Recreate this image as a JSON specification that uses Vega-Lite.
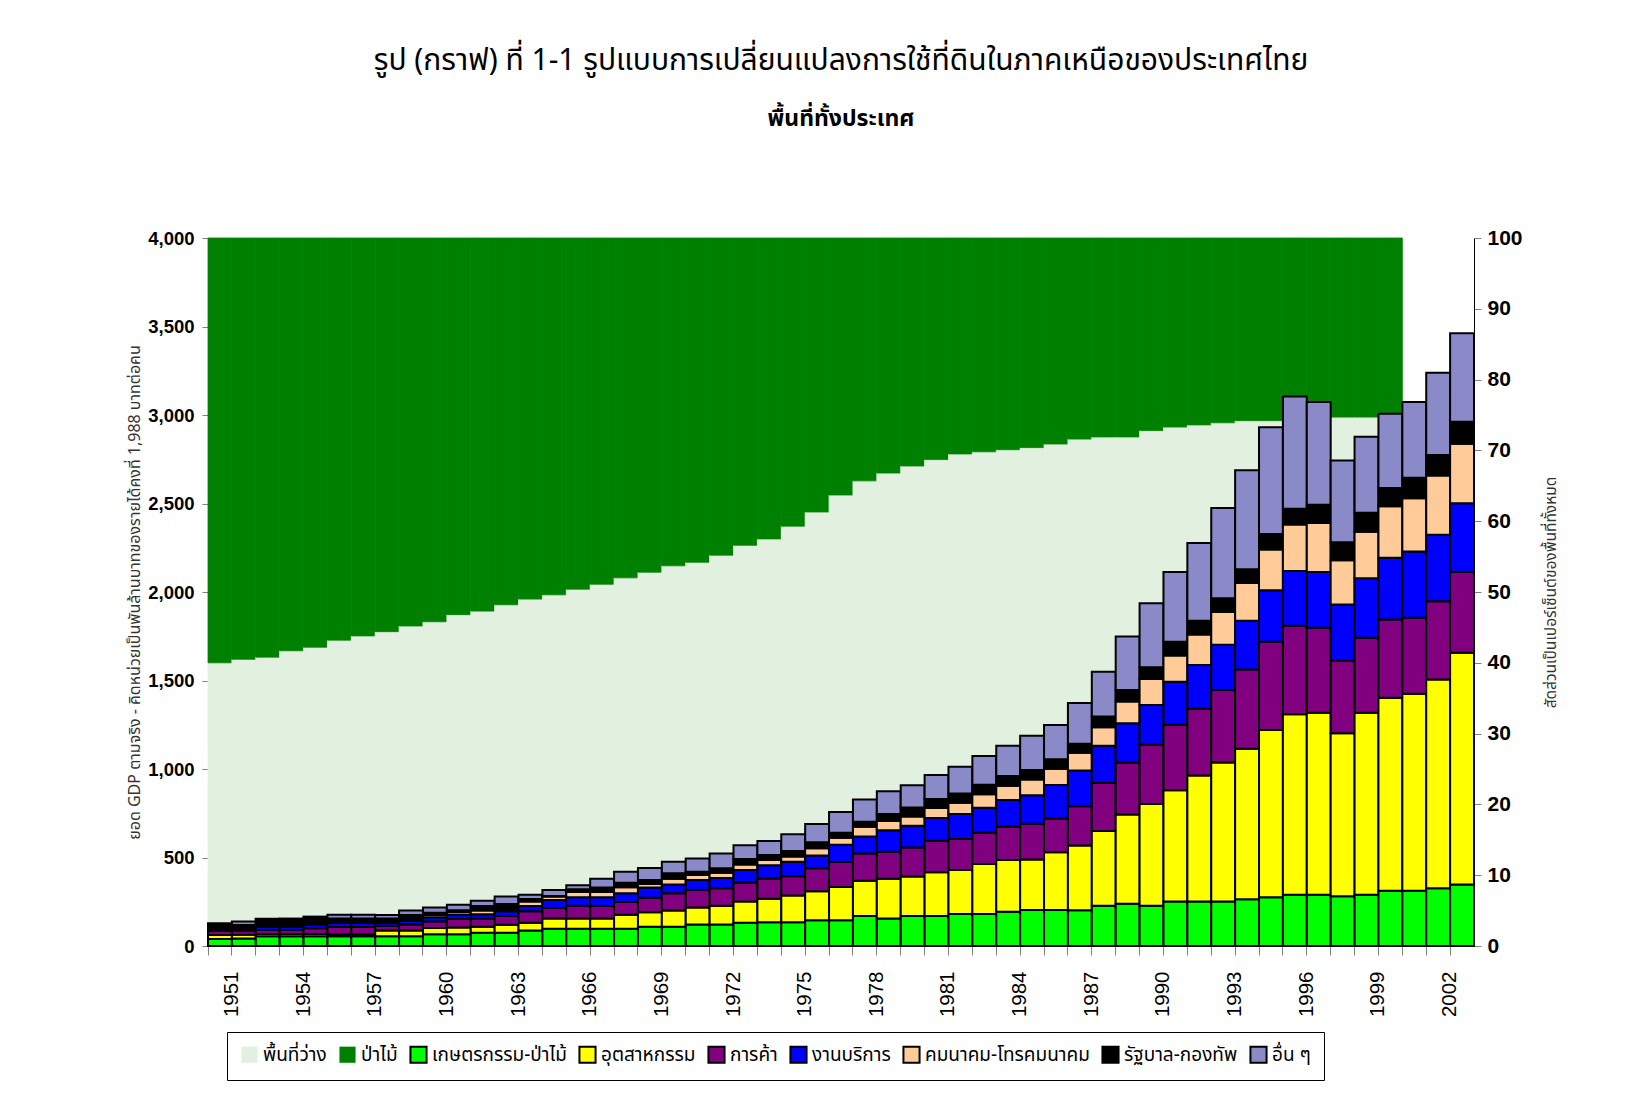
{
  "$schema": "https://vega.github.io/schema/vega-lite/v6.json",
  "autosize": {"type": "none"},
  "width": 1266,
  "height": 708,
  "padding": {"left": 208, "top": 238, "right": 156, "bottom": 159},
  "background": "white",
  "config": {
    "view": {"stroke": null},
    "font": "Noto Sans Thai, Noto Sans, DejaVu Sans, sans-serif"
  },
  "title": {
    "text": "รูป (กราฟ) ที่ 1-1  รูปแบบการเปลี่ยนแปลงการใช้ที่ดินในภาคเหนือของประเทศไทย",
    "subtitle": "พื้นที่ทั้งประเทศ",
    "anchor": "middle",
    "frame": "group",
    "fontSize": 30,
    "fontWeight": "normal",
    "color": "black",
    "subtitleFontSize": 23,
    "subtitleFontWeight": "bold",
    "subtitleColor": "black",
    "subtitlePadding": 32,
    "offset": 96
  },
  "datasets": {
    "land": [
      {"year": 1951, "พื้นที่ว่าง": 40.0, "ป่าไม้": 60.0},
      {"year": 1952, "พื้นที่ว่าง": 40.5, "ป่าไม้": 59.5},
      {"year": 1953, "พื้นที่ว่าง": 40.8, "ป่าไม้": 59.2},
      {"year": 1954, "พื้นที่ว่าง": 41.7, "ป่าไม้": 58.3},
      {"year": 1955, "พื้นที่ว่าง": 42.2, "ป่าไม้": 57.8},
      {"year": 1956, "พื้นที่ว่าง": 43.2, "ป่าไม้": 56.8},
      {"year": 1957, "พื้นที่ว่าง": 43.8, "ป่าไม้": 56.2},
      {"year": 1958, "พื้นที่ว่าง": 44.4, "ป่าไม้": 55.6},
      {"year": 1959, "พื้นที่ว่าง": 45.2, "ป่าไม้": 54.8},
      {"year": 1960, "พื้นที่ว่าง": 45.8, "ป่าไม้": 54.2},
      {"year": 1961, "พื้นที่ว่าง": 46.8, "ป่าไม้": 53.2},
      {"year": 1962, "พื้นที่ว่าง": 47.3, "ป่าไม้": 52.7},
      {"year": 1963, "พื้นที่ว่าง": 48.2, "ป่าไม้": 51.8},
      {"year": 1964, "พื้นที่ว่าง": 49.0, "ป่าไม้": 51.0},
      {"year": 1965, "พื้นที่ว่าง": 49.6, "ป่าไม้": 50.4},
      {"year": 1966, "พื้นที่ว่าง": 50.4, "ป่าไม้": 49.6},
      {"year": 1967, "พื้นที่ว่าง": 51.1, "ป่าไม้": 48.9},
      {"year": 1968, "พื้นที่ว่าง": 52.0, "ป่าไม้": 48.0},
      {"year": 1969, "พื้นที่ว่าง": 52.8, "ป่าไม้": 47.2},
      {"year": 1970, "พื้นที่ว่าง": 53.7, "ป่าไม้": 46.3},
      {"year": 1971, "พื้นที่ว่าง": 54.2, "ป่าไม้": 45.8},
      {"year": 1972, "พื้นที่ว่าง": 55.2, "ป่าไม้": 44.8},
      {"year": 1973, "พื้นที่ว่าง": 56.6, "ป่าไม้": 43.4},
      {"year": 1974, "พื้นที่ว่าง": 57.5, "ป่าไม้": 42.5},
      {"year": 1975, "พื้นที่ว่าง": 59.3, "ป่าไม้": 40.7},
      {"year": 1976, "พื้นที่ว่าง": 61.3, "ป่าไม้": 38.7},
      {"year": 1977, "พื้นที่ว่าง": 63.7, "ป่าไม้": 36.3},
      {"year": 1978, "พื้นที่ว่าง": 65.7, "ป่าไม้": 34.3},
      {"year": 1979, "พื้นที่ว่าง": 66.8, "ป่าไม้": 33.2},
      {"year": 1980, "พื้นที่ว่าง": 67.8, "ป่าไม้": 32.2},
      {"year": 1981, "พื้นที่ว่าง": 68.7, "ป่าไม้": 31.3},
      {"year": 1982, "พื้นที่ว่าง": 69.5, "ป่าไม้": 30.5},
      {"year": 1983, "พื้นที่ว่าง": 69.8, "ป่าไม้": 30.2},
      {"year": 1984, "พื้นที่ว่าง": 70.1, "ป่าไม้": 29.9},
      {"year": 1985, "พื้นที่ว่าง": 70.4, "ป่าไม้": 29.6},
      {"year": 1986, "พื้นที่ว่าง": 70.9, "ป่าไม้": 29.1},
      {"year": 1987, "พื้นที่ว่าง": 71.6, "ป่าไม้": 28.4},
      {"year": 1988, "พื้นที่ว่าง": 71.9, "ป่าไม้": 28.1},
      {"year": 1989, "พื้นที่ว่าง": 71.9, "ป่าไม้": 28.1},
      {"year": 1990, "พื้นที่ว่าง": 72.8, "ป่าไม้": 27.2},
      {"year": 1991, "พื้นที่ว่าง": 73.3, "ป่าไม้": 26.7},
      {"year": 1992, "พื้นที่ว่าง": 73.6, "ป่าไม้": 26.4},
      {"year": 1993, "พื้นที่ว่าง": 73.9, "ป่าไม้": 26.1},
      {"year": 1994, "พื้นที่ว่าง": 74.2, "ป่าไม้": 25.8},
      {"year": 1995, "พื้นที่ว่าง": 74.2, "ป่าไม้": 25.8},
      {"year": 1996, "พื้นที่ว่าง": 74.5, "ป่าไม้": 25.5},
      {"year": 1997, "พื้นที่ว่าง": 74.6, "ป่าไม้": 25.4},
      {"year": 1998, "พื้นที่ว่าง": 74.7, "ป่าไม้": 25.3},
      {"year": 1999, "พื้นที่ว่าง": 74.7, "ป่าไม้": 25.3},
      {"year": 2000, "พื้นที่ว่าง": 74.9, "ป่าไม้": 25.1}
    ],
    "gdp": [
      {"year": 1951, "เกษตรกรรม-ป่าไม้": 40, "อุตสาหกรรม": 22, "การค้า": 24, "งานบริการ": 2, "คมนาคม-โทรคมนาคม": 2, "รัฐบาล-กองทัพ": 36, "อื่น ๆ": 2},
      {"year": 1952, "เกษตรกรรม-ป่าไม้": 42, "อุตสาหกรรม": 22, "การค้า": 24, "งานบริการ": 2, "คมนาคม-โทรคมนาคม": 2, "รัฐบาล-กองทัพ": 26, "อื่น ๆ": 21},
      {"year": 1953, "เกษตรกรรม-ป่าไม้": 55, "อุตสาหกรรม": 13, "การค้า": 22, "งานบริการ": 18, "คมนาคม-โทรคมนาคม": 2, "รัฐบาล-กองทัพ": 42, "อื่น ๆ": 2},
      {"year": 1954, "เกษตรกรรม-ป่าไม้": 55, "อุตสาหกรรม": 13, "การค้า": 22, "งานบริการ": 18, "คมนาคม-โทรคมนาคม": 2, "รัฐบาล-กองทัพ": 42, "อื่น ๆ": 3},
      {"year": 1955, "เกษตรกรรม-ป่าไม้": 55, "อุตสาหกรรม": 13, "การค้า": 32, "งานบริการ": 22, "คมนาคม-โทรคมนาคม": 2, "รัฐบาล-กองทัพ": 36, "อื่น ๆ": 6},
      {"year": 1956, "เกษตรกรรม-ป่าไม้": 55, "อุตสาหกรรม": 11, "การค้า": 42, "งานบริการ": 22, "คมนาคม-โทรคมนาคม": 3, "รัฐบาล-กองทัพ": 22, "อื่น ๆ": 22},
      {"year": 1957, "เกษตรกรรม-ป่าไม้": 55, "อุตสาหกรรม": 11, "การค้า": 42, "งานบริการ": 22, "คมนาคม-โทรคมนาคม": 3, "รัฐบาล-กองทัพ": 22, "อื่น ๆ": 22},
      {"year": 1958, "เกษตรกรรม-ป่าไม้": 55, "อุตสาหกรรม": 33, "การค้า": 26, "งานบริการ": 18, "คมนาคม-โทรคมนาคม": 3, "รัฐบาล-กองทัพ": 20, "อื่น ๆ": 20},
      {"year": 1959, "เกษตรกรรม-ป่าไม้": 55, "อุตสาหกรรม": 33, "การค้า": 34, "งานบริการ": 19, "คมนาคม-โทรคมนาคม": 4, "รัฐบาล-กองทัพ": 30, "อื่น ๆ": 25},
      {"year": 1960, "เกษตรกรรม-ป่าไม้": 66, "อุตสาหกรรม": 36, "การค้า": 36, "งานบริการ": 24, "คมนาคม-โทรคมนาคม": 13, "รัฐบาล-กองทัพ": 13, "อื่น ๆ": 30},
      {"year": 1961, "เกษตรกรรม-ป่าไม้": 66, "อุตสาหกรรม": 38, "การค้า": 48, "งานบริการ": 23, "คมนาคม-โทรคมนาคม": 15, "รัฐบาล-กองทัพ": 12, "อื่น ๆ": 31},
      {"year": 1962, "เกษตรกรรม-ป่าไม้": 75, "อุตสาหกรรม": 34, "การค้า": 47, "งานบริการ": 23, "คมนาคม-โทรคมนาคม": 21, "รัฐบาล-กองทัพ": 26, "อื่น ๆ": 30},
      {"year": 1963, "เกษตรกรรม-ป่าไม้": 75, "อุตสาหกรรม": 45, "การค้า": 49, "งานบริการ": 27, "คมนาคม-โทรคมนาคม": 2, "รัฐบาล-กองทัพ": 39, "อื่น ๆ": 42},
      {"year": 1964, "เกษตรกรรม-ป่าไม้": 87, "อุตสาหกรรม": 45, "การค้า": 64, "งานบริการ": 30, "คมนาคม-โทรคมนาคม": 26, "รัฐบาล-กองทัพ": 14, "อื่น ๆ": 24},
      {"year": 1965, "เกษตรกรรม-ป่าไม้": 98, "อุตสาหกรรม": 58, "การค้า": 59, "งานบริการ": 45, "คมนาคม-โทรคมนาคม": 19, "รัฐบาล-กองทัพ": 4, "อื่น ๆ": 33},
      {"year": 1966, "เกษตรกรรม-ป่าไม้": 98, "อุตสาหกรรม": 58, "การค้า": 72, "งานบริการ": 47, "คมนาคม-โทรคมนาคม": 30, "รัฐบาล-กองทัพ": 15, "อื่น ๆ": 23},
      {"year": 1967, "เกษตรกรรม-ป่าไม้": 98, "อุตสาหกรรม": 57, "การค้า": 71, "งานบริการ": 49, "คมนาคม-โทรคมนาคม": 30, "รัฐบาล-กองทัพ": 25, "อื่น ๆ": 50},
      {"year": 1968, "เกษตรกรรม-ป่าไม้": 98, "อุตสาหกรรม": 79, "การค้า": 72, "งานบริการ": 49, "คมนาคม-โทรคมนาคม": 34, "รัฐบาล-กองทัพ": 26, "อื่น ๆ": 62},
      {"year": 1969, "เกษตรกรรม-ป่าไม้": 109, "อุตสาหกรรม": 81, "การค้า": 83, "งานบริการ": 57, "คมนาคม-โทรคมนาคม": 20, "รัฐบาล-กองทัพ": 23, "อื่น ๆ": 68},
      {"year": 1970, "เกษตรกรรม-ป่าไม้": 109, "อุตสาหกรรม": 91, "การค้า": 98, "งานบริการ": 49, "คมนาคม-โทรคมนาคม": 33, "รัฐบาล-กองทัพ": 31, "อื่น ๆ": 65},
      {"year": 1971, "เกษตรกรรม-ป่าไม้": 122, "อุตสาหกรรม": 95, "การค้า": 99, "งานบริการ": 57, "คมนาคม-โทรคมนาคม": 28, "รัฐบาล-กองทัพ": 19, "อื่น ๆ": 75},
      {"year": 1972, "เกษตรกรรม-ป่าไม้": 122, "อุตสาหกรรม": 106, "การค้า": 98, "งานบริการ": 58, "คมนาคม-โทรคมนาคม": 30, "รัฐบาล-กองทัพ": 25, "อื่น ๆ": 83},
      {"year": 1973, "เกษตรกรรม-ป่าไม้": 132, "อุตสาหกรรม": 120, "การค้า": 106, "งานบริการ": 71, "คมนาคม-โทรคมนาคม": 32, "รัฐบาล-กองทัพ": 31, "อื่น ๆ": 77},
      {"year": 1974, "เกษตรกรรม-ป่าไม้": 134, "อุตสาหกรรม": 133, "การค้า": 115, "งานบริการ": 74, "คมนาคม-โทรคมนาคม": 30, "รัฐบาล-กองทัพ": 28, "อื่น ๆ": 79},
      {"year": 1975, "เกษตรกรรม-ป่าไม้": 134, "อุตสาหกรรม": 152, "การค้า": 108, "งานบริการ": 82, "คมนาคม-โทรคมนาคม": 29, "รัฐบาล-กองทัพ": 32, "อื่น ๆ": 94},
      {"year": 1976, "เกษตรกรรม-ป่าไม้": 145, "อุตสาหกรรม": 164, "การค้า": 130, "งานบริการ": 73, "คมนาคม-โทรคมนาคม": 40, "รัฐบาล-กองทัพ": 34, "อื่น ๆ": 103},
      {"year": 1977, "เกษตรกรรม-ป่าไม้": 145, "อุตสาหกรรม": 188, "การค้า": 142, "งานบริการ": 97, "คมนาคม-โทรคมนาคม": 40, "รัฐบาล-กองทัพ": 28, "อื่น ๆ": 117},
      {"year": 1978, "เกษตรกรรม-ป่าไม้": 169, "อุตสาหกรรม": 200, "การค้า": 153, "งานบริการ": 96, "คมนาคม-โทรคมนาคม": 56, "รัฐบาล-กองทัพ": 28, "อื่น ๆ": 125},
      {"year": 1979, "เกษตรกรรม-ป่าไม้": 156, "อุตสาหกรรม": 224, "การค้า": 153, "งานบริการ": 121, "คมนาคม-โทรคมนาคม": 52, "รัฐบาล-กองทัพ": 40, "อื่น ๆ": 128},
      {"year": 1980, "เกษตรกรรม-ป่าไม้": 169, "อุตสาหกรรม": 223, "การค้า": 165, "งานบริการ": 123, "คมนาคม-โทรคมนาคม": 51, "รัฐบาล-กองทัพ": 52, "อื่น ๆ": 125},
      {"year": 1981, "เกษตรกรรม-ป่าไม้": 169, "อุตสาหกรรม": 247, "การค้า": 179, "งานบริการ": 128, "คมนาคม-โทรคมนาคม": 57, "รัฐบาล-กองทัพ": 51, "อื่น ๆ": 135},
      {"year": 1982, "เกษตรกรรม-ป่าไม้": 181, "อุตสาหกรรม": 248, "การค้า": 176, "งานบริการ": 141, "คมนาคม-โทรคมนาคม": 64, "รัฐบาล-กองทัพ": 52, "อื่น ๆ": 151},
      {"year": 1983, "เกษตรกรรม-ป่าไม้": 181, "อุตสาหกรรม": 282, "การค้า": 177, "งานบริการ": 141, "คมนาคม-โทรคมนาคม": 76, "รัฐบาล-กองทัพ": 54, "อื่น ๆ": 162},
      {"year": 1984, "เกษตรกรรม-ป่าไม้": 194, "อุตสาหกรรม": 292, "การค้า": 188, "งานบริการ": 151, "คมนาคม-โทรคมนาคม": 81, "รัฐบาล-กองทัพ": 54, "อื่น ๆ": 172},
      {"year": 1985, "เกษตรกรรม-ป่าไม้": 203, "อุตสาหกรรม": 285, "การค้า": 203, "งานบริการ": 160, "คมนาคม-โทรคมนาคม": 89, "รัฐบาล-กองทัพ": 54, "อื่น ๆ": 194},
      {"year": 1986, "เกษตรกรรม-ป่าไม้": 203, "อุตสาหกรรม": 326, "การค้า": 192, "งานบริการ": 189, "คมนาคม-โทรคมนาคม": 92, "รัฐบาล-กองทัพ": 53, "อื่น ๆ": 194},
      {"year": 1987, "เกษตรกรรม-ป่าไม้": 202, "อุตสาหกรรม": 366, "การค้า": 222, "งานบริการ": 201, "คมนาคม-โทรคมนาคม": 101, "รัฐบาล-กองทัพ": 51, "อื่น ๆ": 230},
      {"year": 1988, "เกษตรกรรม-ป่าไม้": 227, "อุตสาหกรรม": 423, "การค้า": 271, "งานบริการ": 210, "คมนาคม-โทรคมนาคม": 105, "รัฐบาล-กองทัพ": 61, "อื่น ๆ": 253},
      {"year": 1989, "เกษตรกรรม-ป่าไม้": 239, "อุตสาหกรรม": 504, "การค้า": 294, "งานบริการ": 221, "คมนาคม-โทรคมนาคม": 123, "รัฐบาล-กองทัพ": 66, "อื่น ๆ": 302},
      {"year": 1990, "เกษตรกรรม-ป่าไม้": 227, "อุตสาหกรรม": 575, "การค้า": 337, "งานบริการ": 222, "คมนาคม-โทรคมนาคม": 148, "รัฐบาล-กองทัพ": 66, "อื่น ๆ": 361},
      {"year": 1991, "เกษตรกรรม-ป่าไม้": 252, "อุตสาหกรรม": 628, "การค้า": 370, "งานบริการ": 243, "คมนาคม-โทรคมนาคม": 148, "รัฐบาล-กองทัพ": 78, "อื่น ๆ": 394},
      {"year": 1992, "เกษตรกรรม-ป่าไม้": 252, "อุตสาหกรรม": 711, "การค้า": 378, "งานบริการ": 246, "คมนาคม-โทรคมนาคม": 173, "รัฐบาล-กองทัพ": 78, "อื่น ๆ": 439},
      {"year": 1993, "เกษตรกรรม-ป่าไม้": 252, "อุตสาหกรรม": 785, "การค้า": 410, "งานบริการ": 255, "คมนาคม-โทรคมนาคม": 185, "รัฐบาล-กองทัพ": 78, "อื่น ๆ": 510},
      {"year": 1994, "เกษตรกรรม-ป่าไม้": 264, "อุตสาหกรรม": 851, "การค้า": 447, "งานบริการ": 276, "คมนาคม-โทรคมนาคม": 213, "รัฐบาล-กองทัพ": 78, "อื่น ๆ": 559},
      {"year": 1995, "เกษตรกรรม-ป่าไม้": 276, "อุตสาหกรรม": 945, "การค้า": 498, "งานบริการ": 291, "คมนาคม-โทรคมนาคม": 230, "รัฐบาล-กองทัพ": 87, "อื่น ๆ": 604},
      {"year": 1996, "เกษตรกรรม-ป่าไม้": 290, "อุตสาหกรรม": 1019, "การค้า": 500, "งานบริการ": 309, "คมนาคม-โทรคมนาคม": 263, "รัฐบาล-กองทัพ": 90, "อื่น ๆ": 634},
      {"year": 1997, "เกษตรกรรม-ป่าไม้": 290, "อุตสาหกรรม": 1028, "การค้า": 480, "งานบริการ": 315, "คมนาคม-โทรคมนาคม": 277, "รัฐบาล-กองทัพ": 103, "อื่น ๆ": 580},
      {"year": 1998, "เกษตรกรรม-ป่าไม้": 281, "อุตสาหกรรม": 921, "การค้า": 411, "งานบริการ": 317, "คมนาคม-โทรคมนาคม": 250, "รัฐบาล-กองทัพ": 101, "อื่น ๆ": 462},
      {"year": 1999, "เกษตรกรรม-ป่าไม้": 290, "อุตสาหกรรม": 1028, "การค้า": 424, "งานบริการ": 335, "คมนาคม-โทรคมนาคม": 264, "รัฐบาล-กองทัพ": 107, "อื่น ๆ": 429},
      {"year": 2000, "เกษตรกรรม-ป่าไม้": 312, "อุตสาหกรรม": 1091, "การค้า": 442, "งานบริการ": 348, "คมนาคม-โทรคมนาคม": 291, "รัฐบาล-กองทัพ": 103, "อื่น ๆ": 420},
      {"year": 2001, "เกษตรกรรม-ป่าไม้": 312, "อุตสาหกรรม": 1113, "การค้า": 429, "งานบริการ": 375, "คมนาคม-โทรคมนาคม": 300, "รัฐบาล-กองทัพ": 116, "อื่น ๆ": 428},
      {"year": 2002, "เกษตรกรรม-ป่าไม้": 326, "อุตสาหกรรม": 1180, "การค้า": 442, "งานบริการ": 375, "คมนาคม-โทรคมนาคม": 335, "รัฐบาล-กองทัพ": 116, "อื่น ๆ": 465},
      {"year": 2003, "เกษตรกรรม-ป่าไม้": 348, "อุตสาหกรรม": 1309, "การค้า": 456, "งานบริการ": 389, "คมนาคม-โทรคมนาคม": 335, "รัฐบาล-กองทัพ": 125, "อื่น ๆ": 500}
    ]
  },
  "layer": [
    {
      "data": {"name": "land"},
      "transform": [
        {"fold": ["พื้นที่ว่าง", "ป่าไม้"], "as": ["หมวด", "ค่า"]},
        {"calculate": "indexof(['พื้นที่ว่าง', 'ป่าไม้'], datum['หมวด'])", "as": "ลำดับ"}
      ],
      "mark": {"type": "bar", "strokeWidth": 0.8},
      "encoding": {
        "x": {
          "field": "year", "type": "ordinal",
          "scale": {"paddingInner": 0, "paddingOuter": 0},
          "axis": {
            "title": null, "labelAngle": -90, "labelFontSize": 20.5, "labelFont": "Liberation Sans",
            "labelColor": "black", "labelPadding": 16, "bandPosition": 0, "labelOffset": 11.94,
            "labelExpr": "(datum.value - 1951) % 3 == 0 ? datum.label : ''",
            "tickSize": 9, "tickColor": "#808080", "domainColor": "#808080", "labelBaseline": "middle"
          }
        },
        "y": {
          "field": "ค่า", "type": "quantitative", "stack": "zero",
          "scale": {"domain": [0, 100], "nice": false},
          "axis": {
            "orient": "right", "values": [0, 10, 20, 30, 40, 50, 60, 70, 80, 90, 100], "format": ".0f",
            "grid": false, "labelFont": "Liberation Sans", "labelFontSize": 21, "labelFontWeight": "bold",
            "labelColor": "black", "tickSize": 7, "tickColor": "#808080", "domainColor": "#000000",
            "labelPadding": 6,
            "title": "สัดส่วนเป็นเปอร์เซ็นต์ของพื้นที่ทั้งหมด", "titleAngle": 270, "titleFontSize": 15.5,
            "titleFontWeight": "normal", "titleColor": "#333333", "titlePadding": 36
          }
        },
        "order": {"field": "ลำดับ", "type": "quantitative", "sort": "ascending"},
        "color": {
          "field": "หมวด", "type": "nominal",
          "scale": {
            "domain": ["พื้นที่ว่าง", "ป่าไม้", "เกษตรกรรม-ป่าไม้", "อุตสาหกรรม", "การค้า", "งานบริการ", "คมนาคม-โทรคมนาคม", "รัฐบาล-กองทัพ", "อื่น ๆ"],
            "range": ["#E1F0DF", "#008000", "#00FF00", "#FFFF00", "#800080", "#0000FF", "#FFCC99", "#000000", "#8A8AC8"]
          },
          "legend": {
            "title": null, "orient": "none", "legendX": 19, "legendY": 794,
            "direction": "horizontal", "columns": 9, "columnPadding": 8,
            "labelFontSize": 19, "labelColor": "black", "labelLimit": 300,
            "symbolType": "square", "symbolSize": 260, "symbolStrokeWidth": 2,
            "strokeColor": "black", "fillColor": "white", "padding": 13,
            "encode": {
              "symbols": {
                "update": {
                  "stroke": {"signal": "datum.value === 'พื้นที่ว่าง' || datum.value === 'ป่าไม้' ? 'transparent' : 'black'"},
                  "strokeWidth": {"value": 2}
                }
              }
            }
          }
        },
        "stroke": {
          "field": "หมวด", "type": "nominal",
          "scale": {"domain": ["พื้นที่ว่าง", "ป่าไม้"], "range": ["#E1F0DF", "#008000"]},
          "legend": null
        }
      }
    },
    {
      "data": {"name": "gdp"},
      "transform": [
        {"fold": ["เกษตรกรรม-ป่าไม้", "อุตสาหกรรม", "การค้า", "งานบริการ", "คมนาคม-โทรคมนาคม", "รัฐบาล-กองทัพ", "อื่น ๆ"], "as": ["หมวด", "ค่า"]},
        {"calculate": "indexof(['เกษตรกรรม-ป่าไม้', 'อุตสาหกรรม', 'การค้า', 'งานบริการ', 'คมนาคม-โทรคมนาคม', 'รัฐบาล-กองทัพ', 'อื่น ๆ'], datum['หมวด'])", "as": "ลำดับ"}
      ],
      "mark": {"type": "bar", "stroke": "black", "strokeWidth": 2},
      "encoding": {
        "x": {
          "field": "year", "type": "ordinal",
          "axis": {
            "title": null, "labelAngle": -90, "labelFontSize": 20.5, "labelFont": "Liberation Sans",
            "labelColor": "black", "labelPadding": 16, "bandPosition": 0, "labelOffset": 11.94,
            "labelExpr": "(datum.value - 1951) % 3 == 0 ? datum.label : ''",
            "tickSize": 9, "tickColor": "#808080", "domainColor": "#808080", "labelBaseline": "middle"
          }
        },
        "y": {
          "field": "ค่า", "type": "quantitative", "stack": "zero",
          "scale": {"domain": [0, 4000], "nice": false},
          "axis": {
            "orient": "left", "values": [0, 500, 1000, 1500, 2000, 2500, 3000, 3500, 4000], "format": ",.0f",
            "grid": false, "labelFont": "Liberation Sans", "labelFontSize": 18.5, "labelFontWeight": "bold",
            "labelColor": "black", "tickSize": 6, "tickColor": "#808080", "domainColor": "#808080",
            "labelPadding": 8,
            "title": "ยอด GDP ตามจริง - คิดหน่วยเป็นพันล้านบาทของรายได้คงที่ 1,988 บาทต่อคน",
            "titleFontSize": 16, "titleFontWeight": "normal", "titleColor": "#333333", "titlePadding": 5
          }
        },
        "order": {"field": "ลำดับ", "type": "quantitative", "sort": "ascending"},
        "color": {"field": "หมวด", "type": "nominal"}
      }
    }
  ],
  "resolve": {"scale": {"y": "independent", "stroke": "independent"}}
}
